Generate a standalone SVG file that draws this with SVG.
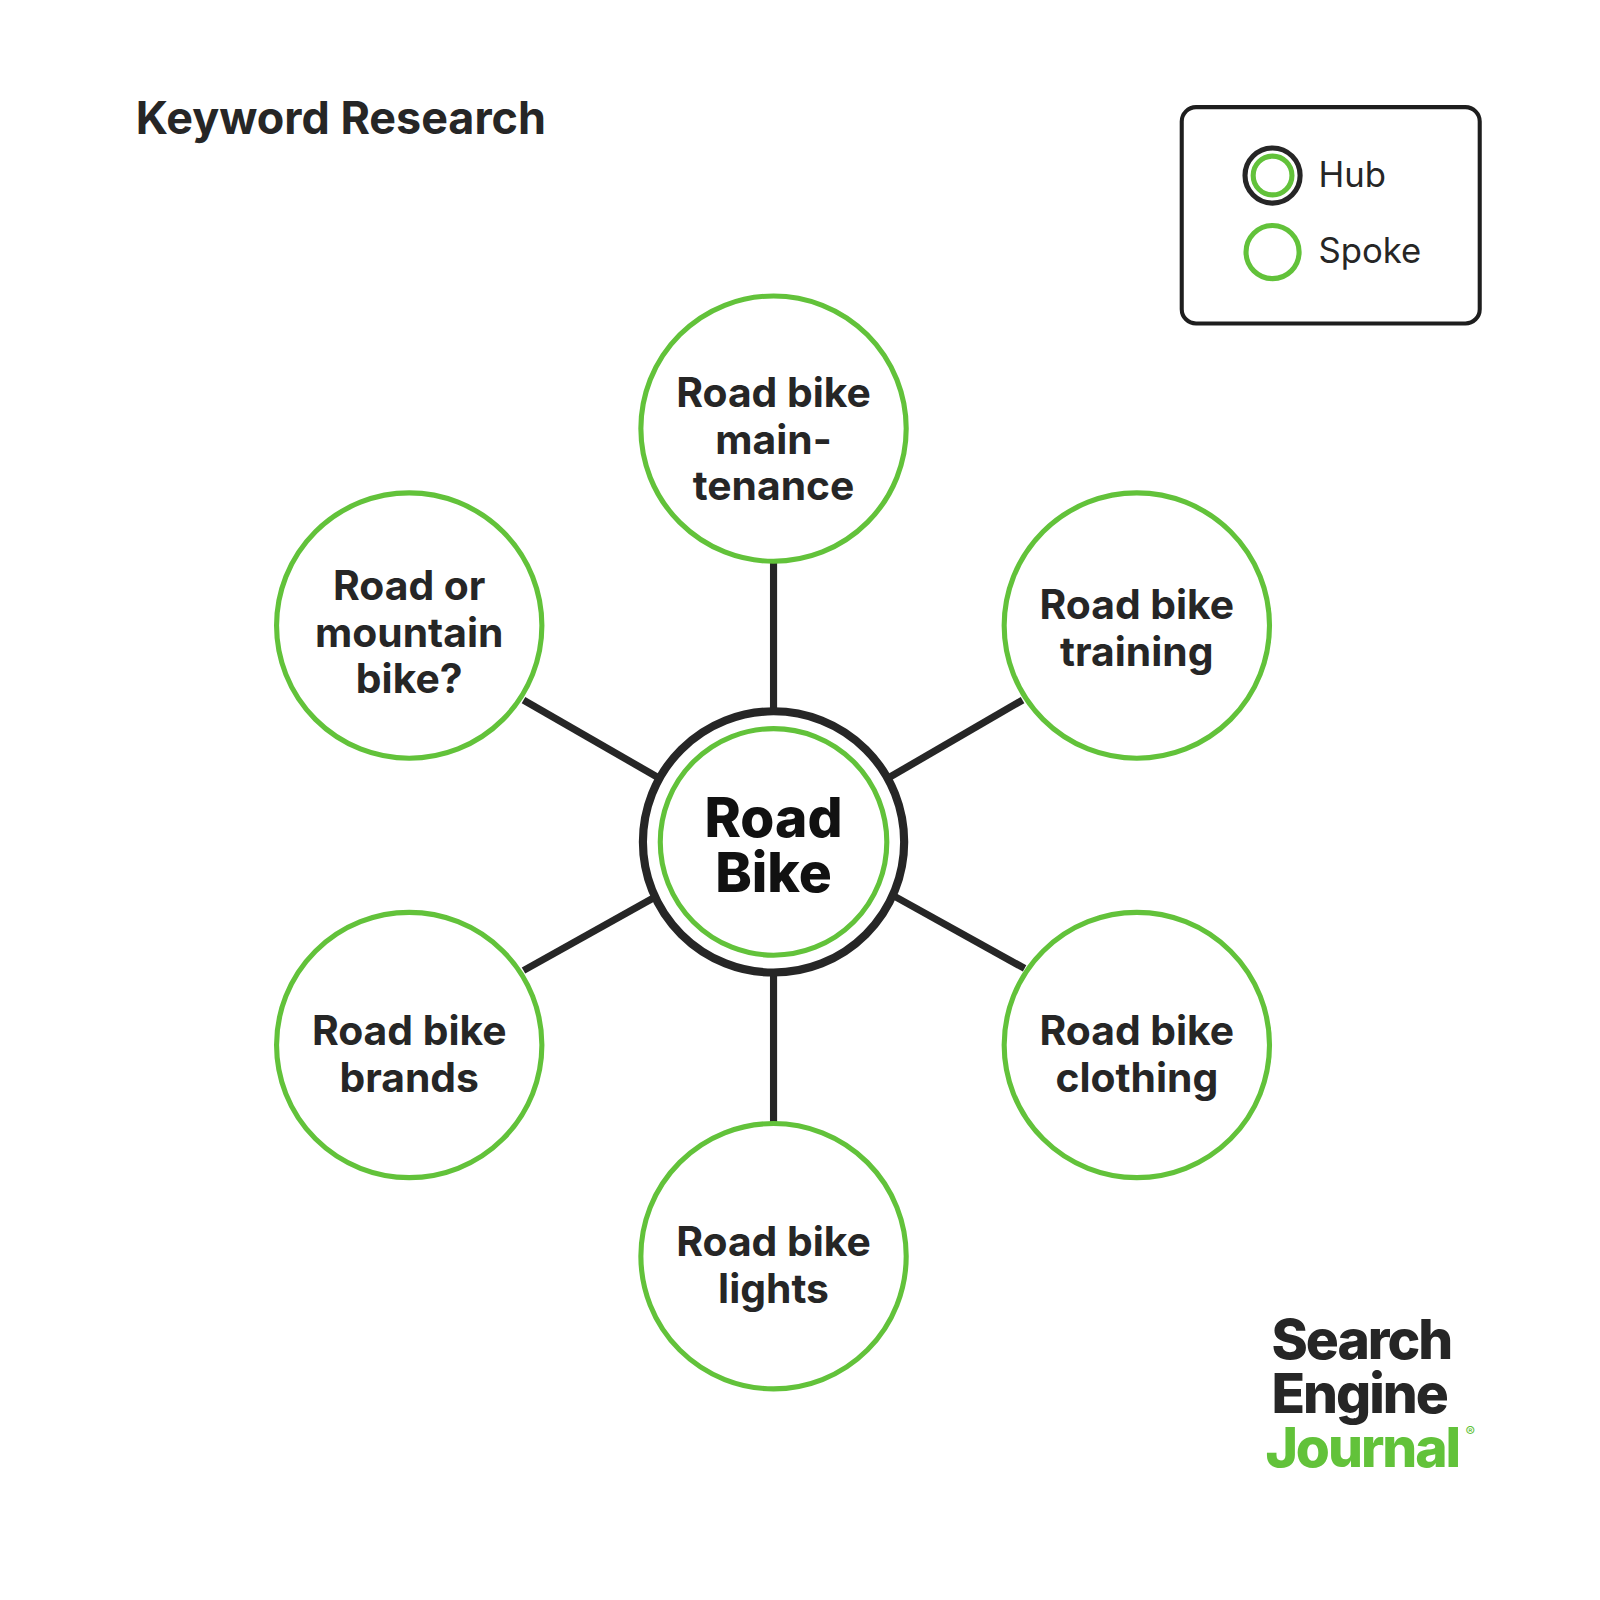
<svg xmlns="http://www.w3.org/2000/svg" width="1600" height="1600" viewBox="0 0 1600 1600">
<style>
.sp{fill:#fff;stroke:#62c23a;stroke-width:5}
.t{font-family:Inter,"Liberation Sans",sans-serif;font-weight:700;fill:#262626;text-anchor:middle;font-size:40px}
.h{font-family:Inter,"Liberation Sans",sans-serif;font-weight:800;fill:#111;text-anchor:middle;font-size:54px}
.c{stroke:#262626;stroke-width:7}
.lg{font-family:Inter,"Liberation Sans",sans-serif;font-size:34px;fill:#262626}
.logo{font-family:Inter,"Liberation Sans",sans-serif;font-weight:800;font-size:54px;letter-spacing:-2px}
</style>
<rect width="1600" height="1600" fill="#fff"/>
<g transform="scale(1.0205)">
<text x="133" y="131" font-family="Inter,'Liberation Sans',sans-serif" font-weight="700" font-size="44" fill="#262626">Keyword Research</text>
<g id="legend">
<rect x="1158" y="105" width="292" height="212" rx="14" fill="#fff" stroke="#1e1e1e" stroke-width="4"/>
<circle cx="1247" cy="172" r="27" fill="none" stroke="#262626" stroke-width="5"/>
<circle cx="1247" cy="172" r="19" fill="none" stroke="#62c23a" stroke-width="5"/>
<circle cx="1247" cy="247" r="26" fill="none" stroke="#62c23a" stroke-width="5"/>
<text class="lg" x="1292" y="183">Hub</text>
<text class="lg" x="1292" y="258">Spoke</text>
</g>
<g id="connectors">
<line class="c" x1="758" y1="550" x2="758" y2="695"/>
<line class="c" x1="758" y1="955" x2="758" y2="1101"/>
<line class="c" x1="513" y1="686" x2="645" y2="762"/>
<line class="c" x1="1002" y1="686" x2="871" y2="762"/>
<line class="c" x1="513" y1="951" x2="640" y2="880"/>
<line class="c" x1="1004" y1="949" x2="876" y2="878"/>
</g>
<g id="hub">
<circle cx="758" cy="825" r="128" fill="#fff" stroke="#262626" stroke-width="8"/>
<circle cx="758" cy="825" r="111" fill="none" stroke="#62c23a" stroke-width="5"/>
<text class="h" x="758" y="820">Road</text>
<text class="h" x="758" y="874">Bike</text>
</g>
<g id="n1"><circle class="sp" cx="758" cy="420" r="130"/>
<text class="t" x="758" y="399">Road bike</text><text class="t" x="758" y="445">main-</text><text class="t" x="758" y="490">tenance</text></g>
<g id="n2"><circle class="sp" cx="401" cy="613" r="130"/>
<text class="t" x="401" y="588">Road or</text><text class="t" x="401" y="634">mountain</text><text class="t" x="401" y="679">bike?</text></g>
<g id="n3"><circle class="sp" cx="1114" cy="613" r="130"/>
<text class="t" x="1114" y="607">Road bike</text><text class="t" x="1114" y="653">training</text></g>
<g id="n4"><circle class="sp" cx="401" cy="1024" r="130"/>
<text class="t" x="401" y="1024">Road bike</text><text class="t" x="401" y="1070">brands</text></g>
<g id="n5"><circle class="sp" cx="1114" cy="1024" r="130"/>
<text class="t" x="1114" y="1024">Road bike</text><text class="t" x="1114" y="1070">clothing</text></g>
<g id="n6"><circle class="sp" cx="758" cy="1231" r="130"/>
<text class="t" x="758" y="1231">Road bike</text><text class="t" x="758" y="1277">lights</text></g>
<g id="logo">
<text class="logo" x="1246" y="1332" fill="#262626">Search</text>
<text class="logo" x="1246" y="1385" fill="#262626">Engine</text>
<text class="logo" x="1240" y="1438" fill="#62c23a">Journal</text>
<text x="1436" y="1408" font-family="Inter,sans-serif" font-size="14" fill="#62c23a">®</text>
</g>
</g>
</svg>
